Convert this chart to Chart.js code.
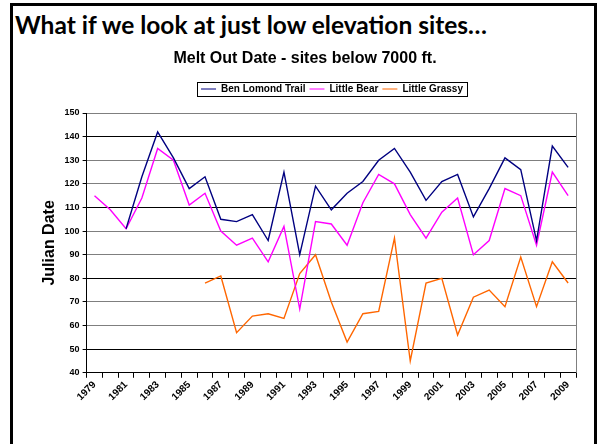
<!DOCTYPE html>
<html lang="en">
<head>
<meta charset="UTF-8">
<title>Melt Out Date - sites below 7000 ft.</title>
<script src="https://cdn.jsdelivr.net/npm/chart.js"></script>
<style>
  html, body { margin: 0; padding: 0; background: #fff; }
  #slide { position: relative; width: 600px; height: 444px; overflow: hidden; }
  #frame { position: absolute; left: 10px; top: 3px; width: 587px; height: 470px; border: 3px solid #000; box-sizing: border-box; }
  h1 { position: absolute; left: 15px; top: 10px; margin: 0; line-height: 1; font: bold 24.5px Lato, "Open Sans", sans-serif; color: #000; }
  #chart { position: absolute; left: 0; top: 0; }
</style>
</head>
<body>
<div id="slide">
  <div id="frame"></div>
  <h1>What if we look at just low elevation sites…</h1>
  <canvas id="chart" width="600" height="444"></canvas>
</div>
<script>
  // data
  const years = ['1979','1980','1981','1982','1983','1984','1985','1986','1987','1988',
                 '1989','1990','1991','1992','1993','1994','1995','1996','1997','1998',
                 '1999','2000','2001','2002','2003','2004','2005','2006','2007','2008','2009'];
  const benLomond = [null, null, 101, 123, 142, 131, 118, 123, 105, 104,
                     107, 96, 125, 90, 119, 109, 116, 121, 130, 135,
                     125, 113, 121, 124, 106, 118, 131, 126, 96, 136, 127];
  const littleBear = [115, 109, 101, 114, 135, 130, 111, 116, 100, 94,
                      97, 87, 102, 67, 104, 103, 94, 112, 124, 120,
                      107, 97, 108, 114, 90, 96, 118, 115, 94, 125, 115];
  const littleGrassy = [null, null, null, null, null, null, null, 78, 81, 57,
                        64, 65, 63, 82, 90, 70, 53, 65, 66, 97,
                        45, 78, 80, 56, 72, 75, 68, 89, 68, 87, 78];
  const darkLines = [140, 110, 80, 50];

  Chart.defaults.font.family = '"Liberation Sans", Arial, sans-serif';
  Chart.defaults.color = '#000';

  // gray right edge of the plot area + box round the legend
  const frames = {
    id: 'frames',
    afterLayout(chart) {
      // legend sits a bit right of the title and higher above the plot
      const lg = chart.legend;
      lg.left += 27; lg.right += 27;
      lg.top -= 9; lg.bottom -= 9;
    },
    beforeDatasetsDraw(chart) {
      const a = chart.chartArea, ctx = chart.ctx;
      ctx.save();
      ctx.strokeStyle = '#7f7f7f';
      ctx.lineWidth = 1;
      ctx.beginPath();
      ctx.moveTo(Math.round(a.right) + 0.5, a.top);
      ctx.lineTo(Math.round(a.right) + 0.5, a.bottom);
      ctx.stroke();
      ctx.restore();
    },
    afterDraw(chart) {
      const boxes = chart.legend.legendHitBoxes;
      if (!boxes.length) return;
      const first = boxes[0], last = boxes[boxes.length - 1];
      const x0 = first.left - 4, x1 = last.left + last.width + 4;
      const y0 = first.top - 2, y1 = first.top + first.height + 2;
      const ctx = chart.ctx;
      ctx.save();
      ctx.strokeStyle = '#000';
      ctx.lineWidth = 1;
      ctx.strokeRect(Math.round(x0) + 0.5, Math.round(y0) + 0.5, Math.round(x1 - x0), Math.round(y1 - y0));
      ctx.restore();
    }
  };

  new Chart(document.getElementById('chart'), {
    type: 'line',
    data: {
      labels: years,
      datasets: [
        { label: 'Ben Lomond Trail', data: benLomond, borderColor: '#000080', backgroundColor: '#000080' },
        { label: 'Little Bear', data: littleBear, borderColor: '#ff00ff', backgroundColor: '#ff00ff' },
        { label: 'Little Grassy', data: littleGrassy, borderColor: '#ff6600', backgroundColor: '#ff6600' }
      ]
    },
    options: {
      responsive: false,
      animation: false,
      elements: {
        line: { borderWidth: 1.4, tension: 0 },
        point: { radius: 0 }
      },
      layout: { padding: { top: 49, right: 24, bottom: 40, left: 34 } },
      plugins: {
        title: {
          display: true,
          text: 'Melt Out Date - sites below 7000 ft.',
          font: { size: 16, weight: 'bold' },
          padding: { top: 0, bottom: 20.8 }
        },
        legend: {
          labels: {
            usePointStyle: true,
            pointStyle: 'line',
            pointStyleWidth: 15,
            font: { size: 10, weight: 'bold' },
            padding: 4
          }
        },
        tooltip: { enabled: false }
      },
      scales: {
        x: {
          offset: true,
          grid: { offset: true, drawOnChartArea: false, color: '#000', tickLength: 5 },
          border: { color: '#000' },
          ticks: {
            autoSkip: false,
            minRotation: 45,
            maxRotation: 45,
            padding: 1,
            font: { size: 10, weight: 'bold' },
            callback: (v, i) => (i % 2 === 0 ? years[i] : '')
          }
        },
        y: {
          min: 40,
          max: 150,
          ticks: { stepSize: 10, padding: 3, font: { size: 9, weight: 'bold' } },
          grid: {
            color: ctx => (darkLines.includes(ctx.tick.value) ? '#000' : '#7f7f7f'),
            tickColor: '#000',
            tickLength: 4
          },
          border: { color: '#000' },
          title: {
            display: true,
            text: 'Julian Date',
            font: { size: 16, weight: 'bold' },
            padding: { top: 5.5, bottom: 2.9 }
          }
        }
      }
    },
    plugins: [frames]
  });
</script>
</body>
</html>
